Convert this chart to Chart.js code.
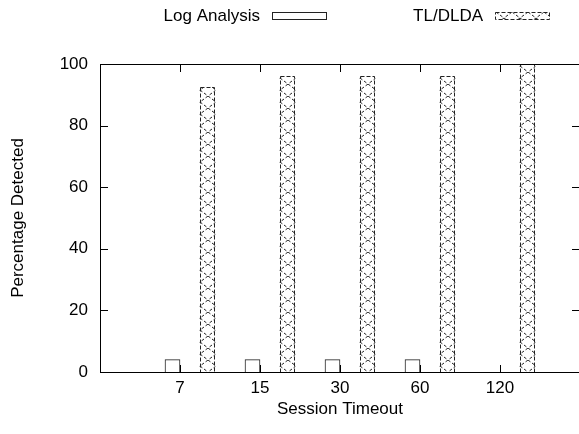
<!DOCTYPE html>
<html>
<head>
<meta charset="utf-8">
<script src="https://cdn.jsdelivr.net/npm/chart.js@4.4.0/dist/chart.umd.min.js"></script>
<style>
  html, body { margin: 0; padding: 0; background: #fff; overflow: hidden; }
  canvas { display: block; }
</style>
</head>
<body>
<canvas id="chart" width="581" height="434"></canvas>
<script>
// data
const categories = ['7', '15', '30', '60', '120'];
const logAnalysis = [4, 4, 4, 4, 0];
const tlDlda = [92.5, 96, 96, 96, 100];
const yTicks = [0, 20, 40, 60, 80, 100];
const seriesNames = ['Log Analysis', 'TL/DLDA'];

const FONT = 'Liberation Sans, Arial, sans-serif';
const FONT_SIZE = 17;

Chart.defaults.font.family = FONT;
Chart.defaults.font.size = FONT_SIZE;
Chart.defaults.color = '#000';

const canvas = document.getElementById('chart');
const ctx = canvas.getContext('2d');

// crosshatch fill like gnuplot's pattern
function makeHatch() {
    const c = document.createElement('canvas');
    c.width = 16;
    c.height = 12;
    const g = c.getContext('2d');
    g.strokeStyle = '#222';
    g.lineWidth = 1;
    g.setLineDash([3, 2]);
    g.beginPath();
    g.moveTo(0, 0); g.lineTo(16, 12);
    g.moveTo(16, 0); g.lineTo(0, 12);
    g.stroke();
    return ctx.createPattern(c, 'repeat');
}
const hatch = makeHatch();

// box, inward ticks, dashed outlines and the gnuplot-style key
const gnuplotFrame = {
    id: 'gnuplotFrame',
    afterDraw(chart) {
        const c = chart.ctx;
        const sx = chart.scales.x, sy = chart.scales.y;
        const L = Math.round(sx.left), R = Math.round(sx.right);
        const T = Math.round(sy.top), B = Math.round(sy.bottom);
        c.save();

        // dashed outline around the TL/DLDA bars
        c.lineWidth = 1;
        c.strokeStyle = '#222';
        c.setLineDash([4, 2]);
        chart.getDatasetMeta(1).data.forEach(bar => {
            const p = bar.getProps(['x', 'y', 'base', 'width'], true);
            const left = Math.round(p.x - p.width / 2) + 0.5;
            const top = Math.round(p.y) + 0.5;
            c.strokeRect(left, top, Math.round(p.width) - 1, Math.round(p.base - p.y));
        });
        c.setLineDash([]);

        // border and inward ticks as 1px rectangles
        c.fillStyle = '#000';
        c.fillRect(L, T, R - L, 1);
        c.fillRect(L, B, R - L, 1);
        c.fillRect(L, T, 1, B - T + 1);
        c.fillRect(R - 1, T, 1, B - T + 1);
        sy.ticks.forEach(t => {
            const py = Math.round(sy.getPixelForValue(t.value));
            c.fillRect(L, py, 8, 1);
            c.fillRect(R - 8, py, 8, 1);
        });
        sx.ticks.forEach(t => {
            const px = Math.round(sx.getPixelForValue(t.value));
            c.fillRect(px, B - 7, 1, 8);
            c.fillRect(px, T, 1, 8);
        });

        // key: text then sample box
        const keyTextRight = [260, 483];
        const keyY = 16;
        c.font = FONT_SIZE + 'px ' + FONT;
        c.textAlign = 'right';
        c.textBaseline = 'middle';
        chart.data.datasets.forEach((ds, i) => {
            const tx = keyTextRight[i];
            c.fillStyle = '#000';
            c.fillText(ds.label, tx, keyY);
            const bx = tx + 12.5, by = keyY - 3.5;
            c.fillStyle = ds.backgroundColor;
            c.fillRect(bx, by, 54, 7);
            c.strokeStyle = '#222';
            if (i === 1) c.setLineDash([4, 2]);
            c.strokeRect(bx, by, 54, 7);
            c.setLineDash([]);
        });
        c.restore();
    }
};

new Chart(ctx, {
    type: 'bar',
    data: {
        datasets: [{
            label: seriesNames[0],
            data: logAnalysis.map((v, i) => ({ x: i + 1, y: v })),
            backgroundColor: '#fff',
            borderColor: '#222',
            borderWidth: 1,
            xAxisID: 'x'
        }, {
            label: seriesNames[1],
            data: tlDlda.map((v, i) => ({ x: i + 1, y: v })),
            backgroundColor: hatch,
            borderWidth: 0,
            xAxisID: 'x2'
        }]
    },
    options: {
        responsive: false,
        animation: false,
        barThickness: 15,
        layout: { padding: { top: 64, right: 1, bottom: 0, left: 0 } },
        plugins: {
            legend: { display: false },
            tooltip: { enabled: false }
        },
        scales: {
            x: {
                type: 'linear',
                offset: false,
                min: 0,
                max: categories.length + 1,
                grid: { display: false, drawTicks: false },
                border: { display: false },
                afterBuildTicks: s => { s.ticks = categories.map((c, i) => ({ value: i + 1 })); },
                afterFit: s => { s.height = 62; },
                ticks: {
                    autoSkip: false,
                    maxRotation: 0,
                    padding: 6,
                    callback: v => categories[v - 1]
                },
                title: {
                    display: true,
                    text: 'Session Timeout',
                    padding: { top: 0, bottom: 14 }
                }
            },
            // TL/DLDA bars sit a quarter step to the right of each tick
            x2: {
                type: 'linear',
                display: false,
                offset: false,
                min: -0.25,
                max: categories.length + 0.75
            },
            y: {
                min: 0,
                max: 100,
                grid: { display: false, drawTicks: false },
                border: { display: false },
                afterBuildTicks: s => { s.ticks = yTicks.map(v => ({ value: v })); },
                afterFit: s => { s.width = 100; },
                ticks: { padding: 12 },
                title: {
                    display: true,
                    text: 'Percentage Detected',
                    padding: { top: 8, bottom: 0 }
                }
            }
        }
    },
    plugins: [gnuplotFrame]
});
</script>
</body>
</html>
